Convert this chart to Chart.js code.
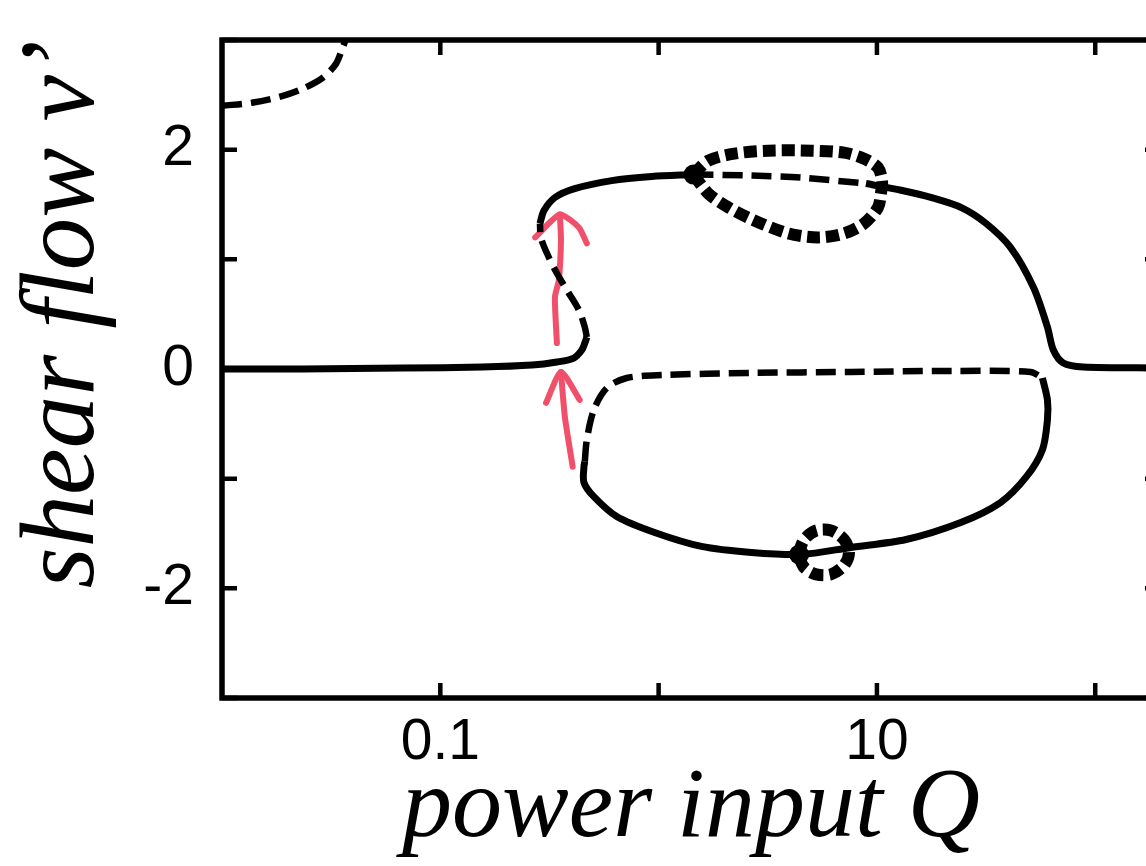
<!DOCTYPE html>
<html>
<head>
<meta charset="utf-8">
<script src="https://cdn.jsdelivr.net/npm/chart.js@4.4.1/dist/chart.umd.min.js"></script>
<style>
  html, body { margin: 0; padding: 0; background: #fff; overflow: hidden; }
  #wrap { position: absolute; left: 0; top: 0; }
</style>
</head>
<body>
<div id="wrap"><canvas id="bifurcationChart" width="1180" height="866"></canvas></div>
<script>
// --- axis ticks ---
const xTicks = [0.1, 1, 10, 100];
const xLabeled = [0.1, 10];
const yTicks = [-3, -2, -1, 0, 1, 2, 3];
const yLabeled = [-2, 0, 2];

// --- branches (Q, shear flow v') ---
// top-left unstable branch (dashed)
const cornerQ = [0.0100, 0.0139, 0.0190, 0.0234, 0.0289, 0.0332, 0.0357, 0.0376];
const cornerV = [2.40, 2.43, 2.49, 2.555, 2.655, 2.78, 2.93, 3.05];

// main branch, stable parts (solid)
const lowQ = [0.0100, 0.0234, 0.0670, 0.156, 0.263, 0.342, 0.409, 0.445, 0.459, 0.469];
const lowV = [0.0, 0.0, 0.009, 0.018, 0.036, 0.064, 0.10, 0.173, 0.236, 0.29];
const foldQ = [0.469, 0.459, 0.4315, 0.388, 0.342, 0.308, 0.289, 0.286];
const foldV = [0.29, 0.382, 0.536, 0.691, 0.873, 1.055, 1.20, 1.327];
const upperQ = [0.286, 0.2985, 0.335, 0.413, 0.610, 0.929, 1.445];
const upperV = [1.327, 1.445, 1.564, 1.645, 1.718, 1.755, 1.773];
const midQ = [1.445, 2.66, 4.50, 8.91];
const midV = [1.773, 1.764, 1.745, 1.691];
const rightQ = [8.91, 12.9, 18.0, 24.5, 31.5, 40.9, 52.1, 60.4, 64.3, 71.4, 88.1, 198];
const rightV = [1.691, 1.630, 1.560, 1.47, 1.33, 1.109, 0.745, 0.382, 0.173, 0.055, 0.018, 0.01];

// upper secondary loop (thick dotted)
const loopUpQ = [1.445, 1.69, 2.222, 3.177, 5.00, 7.07, 8.73, 10.11, 10.55, 10.43, 10.11, 8.73, 7.07, 5.38, 3.93, 2.74, 2.09, 1.69, 1.445];
const loopUpV = [1.773, 1.90, 1.964, 1.991, 1.991, 1.973, 1.918, 1.836, 1.718, 1.6, 1.473, 1.327, 1.236, 1.2, 1.236, 1.355, 1.473, 1.6, 1.773];

// lower loop: dashed top, solid bottom
const negTopQ = [0.459, 0.469, 0.505, 0.579, 0.714, 1.032, 2.66, 7.60, 21.8, 50.5, 57.3];
const negTopV = [-0.845, -0.645, -0.373, -0.173, -0.082, -0.055, -0.036, -0.027, -0.018, -0.027, -0.082];
const negBotQ = [57.3, 60.4, 60.4, 57.3, 48.4, 36.8, 24.2, 13.6, 7.60, 4.50, 2.66, 1.571, 0.959, 0.643, 0.505, 0.455, 0.455, 0.459];
const negBotV = [-0.082, -0.282, -0.464, -0.736, -0.982, -1.218, -1.40, -1.555, -1.627, -1.691, -1.673, -1.618, -1.491, -1.345, -1.164, -1.036, -0.891, -0.845];

// small dotted loop on the lower branch
const loopLowQ = [4.36, 4.64, 5.27, 6.16, 7.07, 7.45, 7.07, 6.16, 5.27, 4.64, 4.36];
const loopLowV = [-1.691, -1.555, -1.473, -1.473, -1.555, -1.673, -1.791, -1.873, -1.873, -1.809, -1.691];

// bifurcation nodes
const nodeQ = [1.445, 4.40];
const nodeV = [1.773, -1.691];

// hand-drawn red arrows
const arrowUpShaftQ = [0.342, 0.335, 0.349, 0.357, 0.353];
const arrowUpShaftV = [0.236, 0.655, 0.809, 1.173, 1.409];
const arrowUpHeadQ = [0.272, 0.353, 0.4315, 0.469];
const arrowUpHeadV = [1.20, 1.409, 1.291, 1.145];
const arrowLowShaftQ = [0.404, 0.372, 0.357];
const arrowLowShaftV = [-0.891, -0.436, -0.027];
const arrowLowHeadQ = [0.305, 0.357, 0.435];
const arrowLowHeadV = [-0.309, -0.027, -0.282];

const pts = (qs, vs) => qs.map((q, i) => ({ x: q, y: vs[i] }));

const black = '#000000';
const red = '#f0506a';

function curve(qs, vs, style) {
    const base = {
        data: pts(qs, vs),
        showLine: true,
        pointRadius: 0,
        borderColor: black,
        borderWidth: 7,
        tension: 0.3,
        fill: false,
        borderCapStyle: 'butt',
        borderJoinStyle: 'round'
    };
    return Object.assign(base, style || {});
}

const dashed = { borderDash: [20, 9], borderWidth: 6.5 };
const dotted = { borderDash: [13, 6], borderWidth: 12 };
const arrow = { borderColor: red, borderWidth: 6, tension: 0.2, borderCapStyle: 'round' };

// frame and inward ticks on all four sides
const framePlugin = {
    id: 'frame',
    afterDraw(chart) {
        const { ctx, chartArea: a, scales } = chart;
        const len = 15;
        ctx.save();
        ctx.strokeStyle = black;
        ctx.lineWidth = 4.5;
        xTicks.forEach(v => {
            const px = scales.x.getPixelForValue(v);
            ctx.beginPath();
            ctx.moveTo(px, a.bottom); ctx.lineTo(px, a.bottom - len);
            ctx.moveTo(px, a.top); ctx.lineTo(px, a.top + len);
            ctx.stroke();
        });
        yTicks.forEach(v => {
            const py = scales.y.getPixelForValue(v);
            ctx.beginPath();
            ctx.moveTo(a.left, py); ctx.lineTo(a.left + len, py);
            ctx.moveTo(a.right, py); ctx.lineTo(a.right - len, py);
            ctx.stroke();
        });
        ctx.lineWidth = 5.5;
        ctx.strokeRect(a.left, a.top, a.right - a.left, a.bottom - a.top);
        ctx.restore();
    }
};

const tickFont = { family: '"Liberation Sans", Arial, sans-serif', size: 57 };
const xTitleFont = { family: '"Liberation Serif", "Times New Roman", serif', size: 100, style: 'italic', lineHeight: 1.2 };
const yTitleFont = { family: '"Liberation Serif", "Times New Roman", serif', size: 105, style: 'italic', lineHeight: 1.25 };

new Chart(document.getElementById('bifurcationChart'), {
    type: 'scatter',
    data: {
        datasets: [
            curve(cornerQ, cornerV, dashed),
            curve(lowQ, lowV),
            curve(foldQ, foldV, dashed),
            curve(upperQ, upperV),
            curve(midQ, midV, dashed),
            curve(rightQ, rightV),
            curve(loopUpQ, loopUpV, dotted),
            curve(negTopQ, negTopV, dashed),
            curve(negBotQ, negBotV),
            curve(loopLowQ, loopLowV, dotted),
            {
                data: pts(nodeQ, nodeV),
                showLine: false,
                pointRadius: 10,
                pointBackgroundColor: black,
                pointBorderColor: black,
                pointBorderWidth: 0
            },
            curve(arrowUpShaftQ, arrowUpShaftV, arrow),
            curve(arrowUpHeadQ, arrowUpHeadV, arrow),
            curve(arrowLowShaftQ, arrowLowShaftV, arrow),
            curve(arrowLowHeadQ, arrowLowHeadV, arrow)
        ]
    },
    options: {
        responsive: false,
        animation: false,
        layout: { padding: { left: 0, top: 40, right: 20, bottom: 0 } },
        plugins: {
            legend: { display: false },
            tooltip: { enabled: false }
        },
        scales: {
            x: {
                type: 'logarithmic',
                min: 0.01,
                max: 198,
                grid: { display: false, drawTicks: false },
                border: { display: false },
                afterBuildTicks: (scale) => { scale.ticks = xTicks.map(v => ({ value: v })); },
                afterFit: (scale) => {
                    scale.height = 168;
                    scale.paddingLeft = 0;
                    scale.paddingRight = 0;
                },
                ticks: {
                    color: black,
                    font: tickFont,
                    padding: 11,
                    maxRotation: 0,
                    autoSkip: false,
                    callback: (value) => xLabeled.includes(value) ? String(value) : ''
                },
                title: {
                    display: true,
                    text: 'power input Q',
                    color: black,
                    font: xTitleFont,
                    padding: { top: 0, bottom: -4 }
                }
            },
            y: {
                min: -3,
                max: 3,
                grid: { display: false, drawTicks: false },
                border: { display: false },
                afterBuildTicks: (scale) => { scale.ticks = yTicks.map(v => ({ value: v })); },
                afterFit: (scale) => {
                    scale.width = 222;
                    scale.paddingTop = 0;
                    scale.paddingBottom = 0;
                },
                ticks: {
                    color: black,
                    font: tickFont,
                    padding: 28,
                    autoSkip: false,
                    callback: (value) => yLabeled.includes(value) ? String(value) : ''
                },
                title: {
                    display: true,
                    text: 'shear flow v\u2019',
                    color: black,
                    font: yTitleFont,
                    align: 'end',
                    padding: { top: 0, bottom: 0 }
                }
            }
        }
    },
    plugins: [framePlugin]
});
</script>
</body>
</html>
